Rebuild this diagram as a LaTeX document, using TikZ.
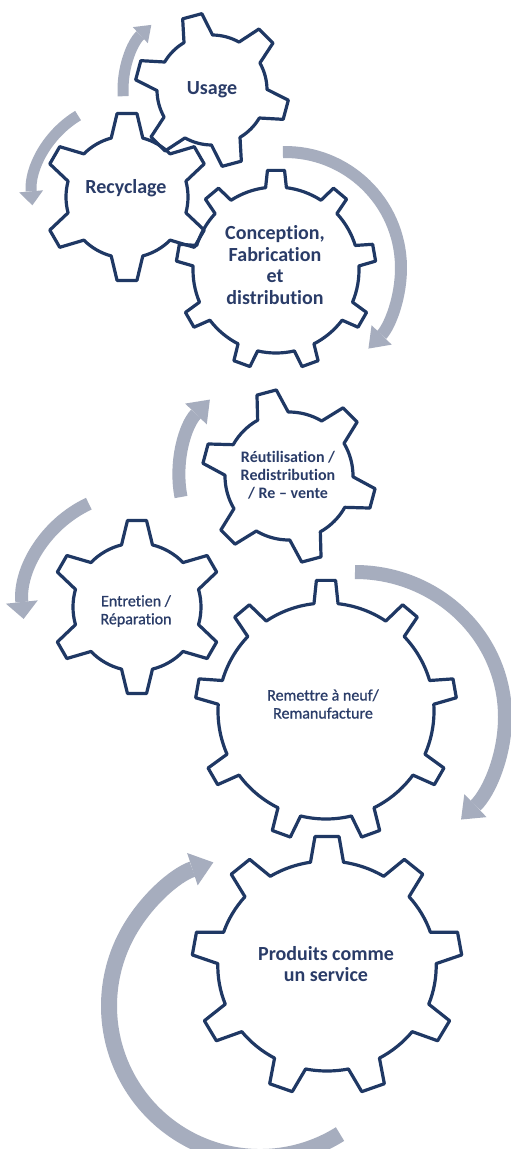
\documentclass[tikz,border=0pt]{standalone}
\usepackage{fontspec}
\setmainfont{Carlito}[Ligatures={NoCommon}]
\newfontfamily\medfont{Carlito}[Ligatures={NoCommon}, FakeBold=0.9]
\usetikzlibrary{arrows.meta}
\definecolor{gearblue}{RGB}{31,56,100}
\definecolor{txtblue}{RGB}{42,60,104}
\definecolor{arrgray}{RGB}{166,173,190}

\newcommand{\gearshape}[6]{% N, R, r, rot, ht, hb
  \draw[gearline] (#4-#6:#3pt)
    \foreach \k [evaluate=\k as \ang using #4+(\k-1)*360/#1] in {1,...,#1} {
      -- (\ang-#5:#2pt) -- (\ang+#5:#2pt) -- (\ang+#6:#3pt)
      arc[start angle=\ang+#6, end angle=\ang+360/#1-#6, radius=#3pt]
    } -- cycle;
}

\tikzset{
  gearline/.style={draw=gearblue, line width=3.2pt, line join=round},
  band/.style={draw=arrgray, line cap=butt},
  lblbold/.style={text=txtblue, align=center, font=\bfseries\fontsize{20}{21.7}\selectfont},
  lblmid/.style={text=txtblue, align=center, font=\bfseries\fontsize{16}{18}\selectfont},
  lblreg/.style={text=txtblue, align=center, font=\medfont\fontsize{16}{18}\selectfont},
}

\begin{document}
\begin{tikzpicture}[x=1pt,y=1pt]
\fill[white] (0,0) rectangle (511,-1149);
\useasboundingbox (0,0) rectangle (511,-1149);

% gear centres
\coordinate (u)  at (212,-90);
\coordinate (rc) at (127,-197);
\coordinate (cf) at (276,-270);
\coordinate (ru) at (289,-476);
\coordinate (en) at (137,-607);
\coordinate (rm) at (326,-711);
\coordinate (ps) at (327,-966);
% arrow arc centres
\coordinate (a3c) at (285,-268);
\coordinate (a6c) at (355,-717);
\coordinate (a7c) at (260,-1006);

% arrows
\draw[band, line width=11pt, -{Triangle[width=22pt,length=15pt,line width=0pt]}]
  (u) ++(184:89pt) arc[start angle=184, end angle=133, radius=89pt];
\draw[band, line width=11pt, -{Triangle[width=24pt,length=14pt,line width=0pt]}]
  (rc) ++(121:95pt) arc[start angle=121, end angle=185, radius=95pt];
\draw[band, line width=12pt, -{Triangle[width=28pt,length=19pt,line width=0pt]}]
  (a3c) ++(91:116pt) arc[start angle=91, end angle=-44, radius=116pt];
\draw[band, line width=13pt, -{Triangle[width=30pt,length=20pt,line width=0pt]}]
  (ru) ++(191:110pt) arc[start angle=191, end angle=136, radius=110pt];
\draw[band, line width=13pt, -{Triangle[width=32pt,length=17pt,line width=0pt]}]
  (en) ++(115:114pt) arc[start angle=115, end angle=186, radius=114pt];
\draw[band, line width=14pt, -{Triangle[width=32pt,length=20pt,line width=0pt]}]
  (a6c) ++(90:145pt) arc[start angle=90, end angle=-45, x radius=150pt, y radius=145pt];
\draw[band, line width=16pt, -{Triangle[width=34pt,length=22pt,line width=0pt]}]
  (a7c) ++(-58:151pt) arc[start angle=-58, end angle=-252, radius=151pt];

% gears
\begin{scope}[shift={(u)}]  \gearshape{6}{77}{55}{105}{7.4}{15.6} \end{scope}
\begin{scope}[shift={(rc)}] \gearshape{6}{84}{61}{90}{6.8}{15.0} \end{scope}
\begin{scope}[shift={(cf)}] \gearshape{9}{100}{83}{90}{4.9}{7.2} \end{scope}
\begin{scope}[shift={(ru)}] \gearshape{6}{87}{64}{105}{6.6}{14.3} \end{scope}
\begin{scope}[shift={(en)}] \gearshape{6}{87}{64}{90}{6.3}{14.0} \end{scope}
\begin{scope}[shift={(rm)}] \gearshape{9}{131}{108}{90}{4.2}{6.4} \end{scope}
\begin{scope}[shift={(ps)}, xscale=1.04] \gearshape{9}{130}{105}{90}{5.1}{8.7} \end{scope}

% labels
\node[lblbold] (tu)  at (212,-90)  {Usage};
\node[lblbold] (trc) at (126,-188) {Recyclage};
\node[lblbold] (tcf) at (275,-265) {Conception,\\Fabrication\\et\\distribution};
\node[lblmid]  (tru) at (288,-475) {Réutilisation /\\Redistribution\\/ Re – vente};
\node[lblreg]  (ten) at (136,-611) {Entretien /\\Réparation};
\node[lblreg]  (trm) at (323,-704) {Remettre à neuf/\\Remanufacture};
\node[lblbold] (tps) at (326,-964) {Produits comme\\un service};
\end{tikzpicture}
\end{document}
